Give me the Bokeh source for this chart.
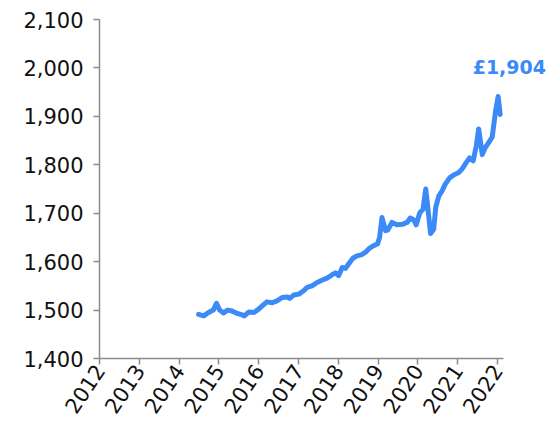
from math import radians

from bokeh.embed import file_html
from bokeh.models import ColumnDataSource, FixedTicker, Label, NumeralTickFormatter, Range1d
from bokeh.plotting import figure
from bokeh.resources import INLINE

# Monthly-ish observations, as fractional years
dates = [
    2014.49, 2014.62, 2014.74, 2014.86, 2014.94, 2015.02, 2015.12, 2015.22,
    2015.33, 2015.46, 2015.59, 2015.64, 2015.75, 2015.88, 2016.00, 2016.11,
    2016.21, 2016.34, 2016.46, 2016.59, 2016.72, 2016.78, 2016.88, 2017.01,
    2017.13, 2017.22, 2017.34, 2017.47, 2017.60, 2017.72, 2017.85, 2017.93,
    2018.01, 2018.10, 2018.18, 2018.26, 2018.37, 2018.47, 2018.58, 2018.68,
    2018.79, 2018.89, 2018.99, 2019.04, 2019.10, 2019.19, 2019.24, 2019.35,
    2019.48, 2019.61, 2019.73, 2019.81, 2019.90, 2019.96, 2020.05, 2020.13,
    2020.20, 2020.27, 2020.32, 2020.40, 2020.45, 2020.53, 2020.61, 2020.69,
    2020.80, 2020.90, 2021.03, 2021.11, 2021.22, 2021.30, 2021.39, 2021.47,
    2021.53, 2021.62, 2021.70, 2021.78, 2021.87, 2021.95, 2022.02, 2022.07,
]
values = [
    1491, 1488, 1495, 1500, 1514, 1500, 1494, 1500,
    1498, 1493, 1490, 1488, 1496, 1495, 1502, 1510,
    1517, 1515, 1519, 1526, 1527, 1524, 1531, 1533,
    1540, 1547, 1550, 1557, 1562, 1566, 1573, 1577,
    1571, 1588, 1586, 1595, 1607, 1612, 1614, 1619,
    1628, 1633, 1637, 1650, 1691, 1664, 1665, 1681,
    1676, 1677, 1681, 1690, 1686, 1676, 1701, 1708,
    1750, 1698, 1658, 1667, 1712, 1736, 1746, 1760,
    1773, 1779, 1784, 1791, 1805, 1814, 1808, 1839,
    1874, 1821, 1836, 1846, 1857, 1908, 1941, 1904,
]
year_ticks = list(range(2012, 2023))
value_ticks = list(range(1400, 2101, 100))
latest_label = "£1,904"

BLUE = "#3b8af7"
AXIS_GREY = "#8c8c8c"
FONT = "DejaVu Sans"

# The frame runs to the right edge so the end-of-line label has room;
# the x axis itself stops just after the last year tick.
p = figure(
    width=549,
    height=422,
    output_backend="svg",
    toolbar_location=None,
    x_range=Range1d(2012, 2023.31),
    y_range=Range1d(1400, 2100),
    min_border_left=99,
    min_border_right=0,
    min_border_top=19,
    min_border_bottom=64,
)
p.outline_line_color = None
p.xgrid.visible = False
p.ygrid.visible = False
p.background_fill_color = "white"
p.border_fill_color = "white"

src = ColumnDataSource(data=dict(x=dates, y=values))
p.line("x", "y", source=src, line_color=BLUE, line_width=5,
       line_join="round", line_cap="round")

for ax in (p.xaxis[0], p.yaxis[0]):
    ax.axis_line_color = AXIS_GREY
    ax.axis_line_width = 1.5
    ax.major_tick_line_color = AXIS_GREY
    ax.major_tick_line_width = 1.5
    ax.major_tick_out = 6
    ax.major_tick_in = 0
    ax.minor_tick_line_color = None
    ax.major_label_text_font = FONT
    ax.major_label_text_color = "#111111"

p.xaxis.bounds = (2012, 2022.15)
p.xaxis.ticker = FixedTicker(ticks=year_ticks)
p.xaxis.major_label_orientation = radians(56)
p.xaxis.major_label_text_font_size = "21px"
p.xaxis.major_label_standoff = 2

p.yaxis.ticker = FixedTicker(ticks=value_ticks)
p.yaxis.formatter = NumeralTickFormatter(format="0,0")
p.yaxis.major_label_text_font_size = "21px"
p.yaxis.major_label_standoff = 10

p.add_layout(Label(
    x=2022.30, y=2002, text=latest_label,
    text_font=FONT, text_font_style="bold", text_font_size="19px",
    text_color=BLUE, text_align="center", text_baseline="middle",
))

open("out.html", "w").write(file_html(p, INLINE))
